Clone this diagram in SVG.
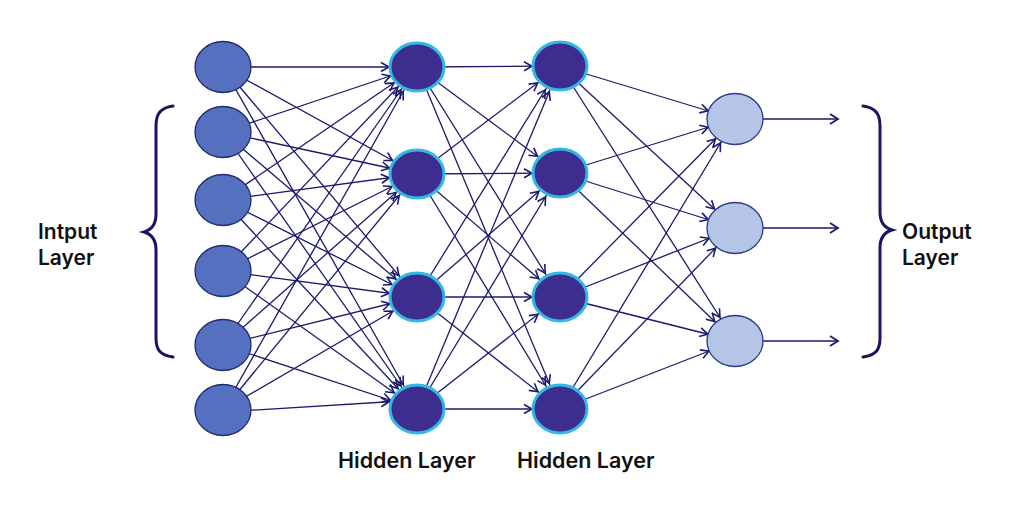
<svg xmlns="http://www.w3.org/2000/svg" width="1024" height="520" viewBox="0 0 1024 520">
<style>
.e{stroke:#1c1a6c;stroke-width:1.3;fill:none;marker-end:url(#a)}
.o{stroke:#1c1a6c;stroke-width:1.5;fill:none;marker-end:url(#b)}
.in{fill:#5670c0;stroke:#1f2a6e;stroke-width:1.3}
.hd{fill:#3d2d8e;stroke:#33b8e6;stroke-width:3}
.ou{fill:#b5c5e7;stroke:#2a3a8a;stroke-width:1.3}
.br{stroke:#1a1563;stroke-width:3;fill:none;stroke-linecap:round}
text{font-family:Inter,"Noto Sans","Liberation Sans",sans-serif;font-weight:600;fill:#111}
</style>
<defs>
<marker id="a" markerUnits="userSpaceOnUse" markerWidth="40" markerHeight="20" refX="28" refY="0" orient="auto" overflow="visible">
<path d="M-8,-4.5 L0,0 L-8,4.5" fill="none" stroke="#1c1a6c" stroke-width="1.6"/>
</marker>
<marker id="b" markerUnits="userSpaceOnUse" markerWidth="20" markerHeight="20" refX="0" refY="0" orient="auto" overflow="visible">
<path d="M-8,-5 L0,0 L-8,5" fill="none" stroke="#1c1a6c" stroke-width="1.8"/>
</marker>
</defs>
<g id="connectors">
<line class="e" x1="223" y1="67" x2="417" y2="67"/>
<line class="e" x1="223" y1="67" x2="417" y2="174"/>
<line class="e" x1="223" y1="67" x2="417" y2="297"/>
<line class="e" x1="223" y1="67" x2="417" y2="409"/>
<line class="e" x1="223" y1="132" x2="417" y2="67"/>
<line class="e" x1="223" y1="132" x2="417" y2="174"/>
<line class="e" x1="223" y1="132" x2="417" y2="297"/>
<line class="e" x1="223" y1="132" x2="417" y2="409"/>
<line class="e" x1="223" y1="200" x2="417" y2="67"/>
<line class="e" x1="223" y1="200" x2="417" y2="174"/>
<line class="e" x1="223" y1="200" x2="417" y2="297"/>
<line class="e" x1="223" y1="200" x2="417" y2="409"/>
<line class="e" x1="223" y1="271" x2="417" y2="67"/>
<line class="e" x1="223" y1="271" x2="417" y2="174"/>
<line class="e" x1="223" y1="271" x2="417" y2="297"/>
<line class="e" x1="223" y1="271" x2="417" y2="409"/>
<line class="e" x1="223" y1="345" x2="417" y2="67"/>
<line class="e" x1="223" y1="345" x2="417" y2="174"/>
<line class="e" x1="223" y1="345" x2="417" y2="297"/>
<line class="e" x1="223" y1="345" x2="417" y2="409"/>
<line class="e" x1="223" y1="410" x2="417" y2="67"/>
<line class="e" x1="223" y1="410" x2="417" y2="174"/>
<line class="e" x1="223" y1="410" x2="417" y2="297"/>
<line class="e" x1="223" y1="412" x2="417" y2="400"/>

<line class="e" x1="417" y1="67" x2="560" y2="66"/>
<line class="e" x1="417" y1="67" x2="560" y2="173"/>
<line class="e" x1="417" y1="67" x2="560" y2="297"/>
<line class="e" x1="417" y1="67" x2="560" y2="409"/>
<line class="e" x1="417" y1="174" x2="560" y2="66"/>
<line class="e" x1="417" y1="174" x2="560" y2="173"/>
<line class="e" x1="417" y1="174" x2="560" y2="297"/>
<line class="e" x1="417" y1="174" x2="560" y2="409"/>
<line class="e" x1="417" y1="297" x2="560" y2="66"/>
<line class="e" x1="417" y1="297" x2="560" y2="173"/>
<line class="e" x1="417" y1="297" x2="560" y2="297"/>
<line class="e" x1="417" y1="297" x2="560" y2="409"/>
<line class="e" x1="417" y1="409" x2="560" y2="66"/>
<line class="e" x1="417" y1="409" x2="560" y2="173"/>
<line class="e" x1="417" y1="409" x2="560" y2="297"/>
<line class="e" x1="417" y1="409" x2="560" y2="409"/>

<line class="e" x1="560" y1="66" x2="735" y2="119"/>
<line class="e" x1="560" y1="66" x2="735" y2="228"/>
<line class="e" x1="560" y1="66" x2="735" y2="341"/>
<line class="e" x1="560" y1="173" x2="735" y2="119"/>
<line class="e" x1="560" y1="173" x2="735" y2="228"/>
<line class="e" x1="560" y1="173" x2="735" y2="341"/>
<line class="e" x1="560" y1="297" x2="735" y2="119"/>
<line class="e" x1="560" y1="297" x2="735" y2="228"/>
<line class="e" x1="560" y1="297" x2="735" y2="341"/>
<line class="e" x1="560" y1="409" x2="735" y2="119"/>
<line class="e" x1="560" y1="409" x2="735" y2="228"/>
<line class="e" x1="560" y1="409" x2="735" y2="341"/>

<line class="o" x1="750" y1="119" x2="838" y2="119"/>
<line class="o" x1="750" y1="228" x2="838" y2="228"/>
<line class="o" x1="750" y1="341" x2="838" y2="341"/>
</g>
<g id="input-layer">
<ellipse id="in1" class="in" cx="223" cy="67" rx="28" ry="25.5"/>
<ellipse id="in2" class="in" cx="223" cy="132" rx="28" ry="25.5"/>
<ellipse id="in3" class="in" cx="223" cy="200" rx="28" ry="25.5"/>
<ellipse id="in4" class="in" cx="223" cy="271" rx="28" ry="25.5"/>
<ellipse id="in5" class="in" cx="223" cy="345" rx="28" ry="25.5"/>
<ellipse id="in6" class="in" cx="223" cy="410" rx="28" ry="25.5"/>
</g>
<g id="hidden-layer-1">
<ellipse id="h1a" class="hd" cx="417" cy="67" rx="27" ry="24"/>
<ellipse id="h1b" class="hd" cx="417" cy="174" rx="27" ry="24"/>
<ellipse id="h1c" class="hd" cx="417" cy="297" rx="27" ry="24"/>
<ellipse id="h1d" class="hd" cx="417" cy="409" rx="27" ry="24"/>
</g>
<g id="hidden-layer-2">
<ellipse id="h2a" class="hd" cx="560" cy="66" rx="27" ry="24"/>
<ellipse id="h2b" class="hd" cx="560" cy="173" rx="27" ry="24"/>
<ellipse id="h2c" class="hd" cx="560" cy="297" rx="27" ry="24"/>
<ellipse id="h2d" class="hd" cx="560" cy="409" rx="27" ry="24"/>
</g>
<g id="output-layer">
<ellipse id="o1" class="ou" cx="735" cy="119" rx="28" ry="25.5"/>
<ellipse id="o2" class="ou" cx="735" cy="228" rx="28" ry="25.5"/>
<ellipse id="o3" class="ou" cx="735" cy="341" rx="28" ry="25.5"/>
</g>
<g id="input-brace">
<path class="br" d="M173,106 C160,108 156,114 156,126 L156,214 C156,225 151,230 144,232 C151,234 156,239 156,250 L156,338 C156,350 160,355 173,357"/>
<text x="38" y="239" font-size="21">Intput</text>
<text x="38" y="265" font-size="21">Layer</text>
</g>
<g id="output-brace">
<path class="br" d="M863,106 C876,108 880,114 880,126 L880,212 C880,223 885,228 892,230 C885,232 880,237 880,248 L880,338 C880,350 876,355 863,357"/>
<text x="902" y="239" font-size="21">Output</text>
<text x="902" y="265" font-size="21">Layer</text>
</g>
<g id="labels">
<text x="338" y="468" font-size="21.5">Hidden Layer</text>
<text x="517" y="468" font-size="21.5">Hidden Layer</text>
</g>
</svg>
